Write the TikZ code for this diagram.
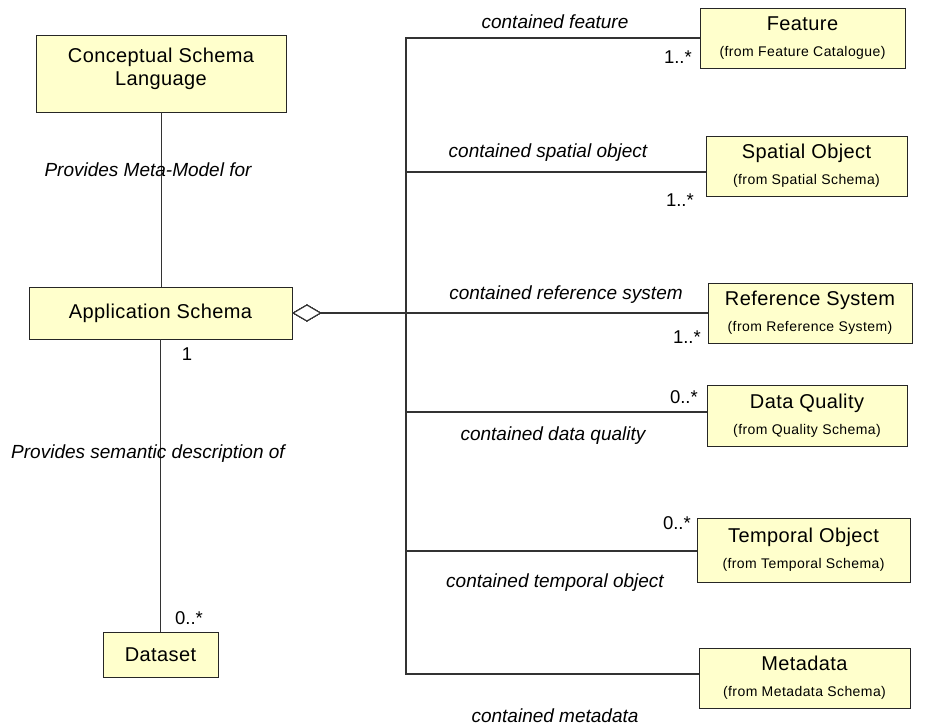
\documentclass[tikz,border=0pt]{standalone}
\usepackage{fontspec}
\setmainfont{Liberation Sans}
\usetikzlibrary{arrows.meta}
\definecolor{classfill}{RGB}{255,255,204}
\newcommand\fromtext[1]{{\fontsize{14}{16}\selectfont\addfontfeature{LetterSpace=3}(from #1)}}
\begin{document}
\begin{tikzpicture}[x=1pt,y=-1pt,
  classbox/.style={draw=black!85, fill=classfill, line width=0.8pt, align=center,
    inner sep=0pt, font=\fontsize{20}{23}\selectfont\addfontfeature{LetterSpace=2}},
  rolelabel/.style={font=\fontsize{19}{22}\selectfont\itshape, inner sep=0pt},
  mult/.style={font=\fontsize{18.5}{22}\selectfont, inner sep=0pt},
  link/.style={draw=black!80, line width=0.9pt},
  aggr/.style={link, line width=1.1pt,
    {Diamond[open, fill=white, length=29pt, width=17pt, line width=1pt]}-}
]
\useasboundingbox (0,0) rectangle (952,727);

% classes on the left
\node[classbox, minimum width=250pt, minimum height=77pt, text depth=13pt] (csl) at (161,73.5)
  {Conceptual Schema\\Language};
\node[classbox, minimum width=263pt, minimum height=52pt] (app) at (160.5,313)
  {Application Schema};
\node[classbox, minimum width=115pt, minimum height=45pt] (dataset) at (160.5,654.5)
  {Dataset};

% contained classes on the right
\node[classbox, minimum width=205pt, minimum height=60pt] (feature) at (802.5,38)
  {Feature\\[3pt]\fromtext{Feature Catalogue}};
\node[classbox, minimum width=201pt, minimum height=60pt] (spatial) at (806.5,166)
  {Spatial Object\\[3pt]\fromtext{Spatial Schema}};
\node[classbox, minimum width=204pt, minimum height=60pt] (refsys) at (810,313)
  {Reference System\\[3pt]\fromtext{Reference System}};
\node[classbox, minimum width=200pt, minimum height=61pt] (dq) at (807,415.5)
  {Data Quality\\[3pt]\fromtext{Quality Schema}};
\node[classbox, minimum width=213pt, minimum height=64pt] (temporal) at (803.5,550)
  {Temporal Object\\[3pt]\fromtext{Temporal Schema}};
\node[classbox, minimum width=211pt, minimum height=60pt] (metadata) at (804.5,678)
  {Metadata\\[3pt]\fromtext{Metadata Schema}};

% associations on the left
\draw[link] (csl.south) -- (csl.south |- app.north);
\draw[link] (app.south) -- (dataset.north);

% aggregations from Application Schema
\coordinate (bus) at (406,313);
\draw[aggr] (app.east) -- (bus) |- (feature.west);
\draw[aggr] (app.east) -- (bus) |- ([yshift=-6pt]spatial.west);
\draw[aggr] (app.east) -- (refsys.west);
\draw[aggr] (app.east) -- (bus) |- ([yshift=3.5pt]dq.west);
\draw[aggr] (app.east) -- (bus) |- ([yshift=-1pt]temporal.west);
\draw[aggr] (app.east) -- (bus) |- ([yshift=4pt]metadata.west);

% association names
\node[rolelabel] (lmeta) at (148,170) {Provides Meta-Model for};
\node[rolelabel] (lsem) at (148,454) {Provides semantic description of};
\node[rolelabel] (lfeat) at (555,22) {contained feature};
\node[rolelabel] (lspat) at (548,153) {contained spatial object};
\node[rolelabel] (lref) at (566,295) {contained reference system};
\node[rolelabel] (ldq) at (553,436) {contained data quality};
\node[rolelabel] (ltemp) at (555,583) {contained temporal object};
\node[rolelabel] (lmd) at (555,716) {contained metadata};

% multiplicities
\node[mult] (mapp) at (187,354) {1};
\node[mult] (mds) at (189,618) {0..*};
\node[mult, anchor=east] (mfeat) at (692,57) {1..*};
\node[mult, anchor=east] (mspat) at (694,200) {1..*};
\node[mult, anchor=east] (mref) at (701,337) {1..*};
\node[mult, anchor=east] (mdq) at (698,397) {0..*};
\node[mult, anchor=east] (mtemp) at (691,523) {0..*};
\end{tikzpicture}
\end{document}
